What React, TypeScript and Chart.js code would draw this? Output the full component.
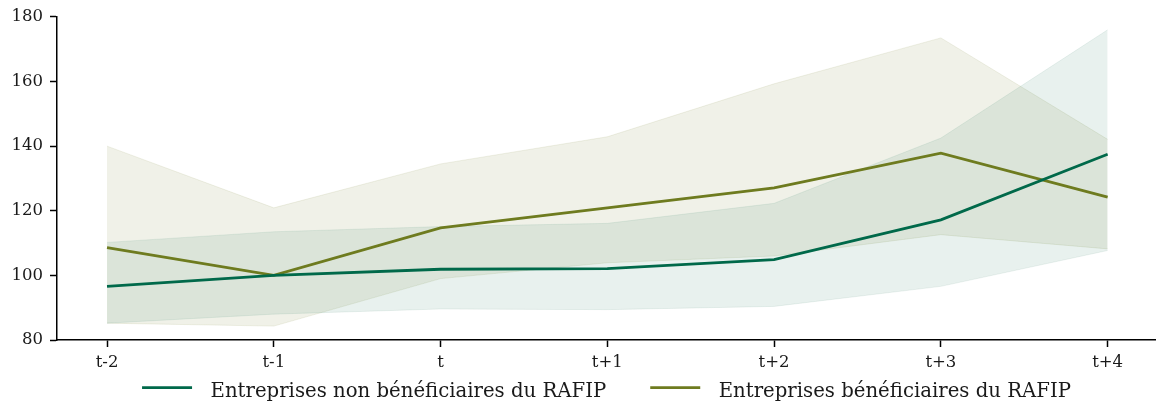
import React, { useEffect, useRef } from "react";
import { Chart, registerables } from "chart.js";

Chart.register(...registerables);

const categories = ["t-2", "t-1", "t", "t+1", "t+2", "t+3", "t+4"];
const nonBenefMean = [96.6, 100, 101.9, 102.1, 104.9, 117.2, 137.5];
const nonBenefUpper = [110.2, 113.5, 115.1, 116.1, 122.3, 142.5, 176];
const nonBenefLower = [85.2, 88, 89.6, 89.4, 90.4, 96.6, 107.7];
const benefMean = [108.6, 100, 114.7, 120.9, 127.1, 137.8, 124.2];
const benefUpper = [140, 120.9, 134.5, 142.9, 159.3, 173.5, 142.1];
const benefLower = [85.2, 84.3, 99, 103.9, 106, 112.6, 108.2];
const seriesLabels = [
  "Entreprises non bénéficiaires du RAFIP",
  "Entreprises bénéficiaires du RAFIP",
];
const yTicks = [80, 100, 120, 140, 160, 180];

const GREEN = "#00694a";
const OLIVE = "#6e7b1f";
const GREEN_FILL = "rgba(0,104,71,0.09)";
const OLIVE_FILL = "rgba(112,122,30,0.10)";
const GREEN_EDGE = "rgba(0,104,71,0.08)";
const OLIVE_EDGE = "rgba(112,122,30,0.10)";
const FONT = "'DejaVu Serif', serif";

const pts = (arr: number[]) => arr.map((y, i) => ({ x: i, y }));

const legendPlugin = {
  id: "customLegend",
  afterDraw(chart: any) {
    const ctx = chart.ctx as CanvasRenderingContext2D;
    const items = [0, 1].map((i) => ({
      label: chart.data.datasets[i].label as string,
      color: chart.data.datasets[i].borderColor as string,
      width: chart.data.datasets[i].borderWidth as number,
    }));
    ctx.save();
    ctx.font = `19.7px ${FONT}`;
    const handle = 50;
    const pad = 18.5;
    const gap = 44;
    const widths = items.map((it) => handle + pad + ctx.measureText(it.label).width);
    const total = widths.reduce((a, b) => a + b, 0) + gap * (items.length - 1);
    const ca = chart.chartArea;
    let x = (ca.left + ca.right) / 2 - total / 2;
    const yLine = chart.height - 15.3;
    const yText = chart.height - 5.8;
    items.forEach((it, i) => {
      ctx.strokeStyle = it.color;
      ctx.lineWidth = it.width;
      ctx.beginPath();
      ctx.moveTo(x, yLine);
      ctx.lineTo(x + handle, yLine);
      ctx.stroke();
      ctx.fillStyle = "#1a1a1a";
      ctx.textBaseline = "alphabetic";
      ctx.textAlign = "left";
      ctx.fillText(it.label, x + handle + pad, yText);
      x += widths[i] + gap;
    });
    ctx.restore();
  },
};

export default function App() {
  const ref = useRef<HTMLCanvasElement | null>(null);

  useEffect(() => {
    document.body.style.margin = "0";
    const canvas = ref.current;
    if (!canvas) return;
    const chart = new Chart(canvas, {
      type: "line",
      data: {
        datasets: [
          {
            label: seriesLabels[0],
            data: pts(nonBenefMean),
            borderColor: GREEN,
            backgroundColor: GREEN,
            borderWidth: 2.8,
            pointRadius: 0,
            fill: false,
            order: 0,
          },
          {
            label: seriesLabels[1],
            data: pts(benefMean),
            borderColor: OLIVE,
            backgroundColor: OLIVE,
            borderWidth: 2.8,
            pointRadius: 0,
            fill: false,
            order: 1,
          },
          {
            label: "nb_upper",
            data: pts(nonBenefUpper),
            borderColor: GREEN_EDGE,
            backgroundColor: GREEN_FILL,
            borderWidth: 1,
            pointRadius: 0,
            fill: "+1",
            order: 5,
          },
          {
            label: "nb_lower",
            data: pts(nonBenefLower),
            borderColor: GREEN_EDGE,
            backgroundColor: GREEN_FILL,
            borderWidth: 1,
            pointRadius: 0,
            fill: false,
            order: 5,
          },
          {
            label: "b_upper",
            data: pts(benefUpper),
            borderColor: OLIVE_EDGE,
            backgroundColor: OLIVE_FILL,
            borderWidth: 1,
            pointRadius: 0,
            fill: "+1",
            order: 6,
          },
          {
            label: "b_lower",
            data: pts(benefLower),
            borderColor: OLIVE_EDGE,
            backgroundColor: OLIVE_FILL,
            borderWidth: 1,
            pointRadius: 0,
            fill: false,
            order: 6,
          },
        ],
      },
      options: {
        animation: false,
        responsive: false,
        devicePixelRatio: 1,
        layout: { padding: { top: 15, right: 0, bottom: 0, left: 0 } },
        plugins: {
          legend: { display: false },
          tooltip: { enabled: false },
        },
        scales: {
          x: {
            type: "linear",
            min: -0.3,
            max: categories.length - 1 + 0.29,
            afterBuildTicks: (scale: any) => {
              scale.ticks = categories.map((_, i) => ({ value: i }));
            },
            afterFit: (scale: any) => {
              scale.height = 63;
            },
            ticks: {
              callback: (v: any) => categories[Math.round(Number(v))] ?? "",
              color: "#1a1a1a",
              font: { family: FONT, size: 16.5 },
              padding: 6,
              maxRotation: 0,
              autoSkip: false,
            },
            grid: {
              display: true,
              drawOnChartArea: false,
              drawTicks: true,
              tickLength: 7,
              tickWidth: 1.5,
              tickColor: "#000",
              color: "#000",
            },
            border: { display: true, color: "#000", width: 1.5 },
          },
          y: {
            type: "linear",
            min: 80,
            max: 180,
            afterBuildTicks: (scale: any) => {
              scale.ticks = yTicks.map((v) => ({ value: v }));
            },
            afterFit: (scale: any) => {
              scale.width = 57;
            },
            ticks: {
              color: "#1a1a1a",
              font: { family: FONT, size: 16.5 },
              padding: 7,
            },
            grid: {
              display: true,
              drawOnChartArea: false,
              drawTicks: true,
              tickLength: 7,
              tickWidth: 1.5,
              tickColor: "#000",
              color: "#000",
            },
            border: { display: true, color: "#000", width: 1.5 },
          },
        },
      },
      plugins: [legendPlugin],
    } as any);
    return () => chart.destroy();
  }, []);

  return (
    <div style={{ position: "fixed", left: 0, top: 0, width: 1156, height: 403 }}>
      <canvas ref={ref} width={1156} height={403} style={{ width: 1156, height: 403, display: "block" }} />
    </div>
  );
}
